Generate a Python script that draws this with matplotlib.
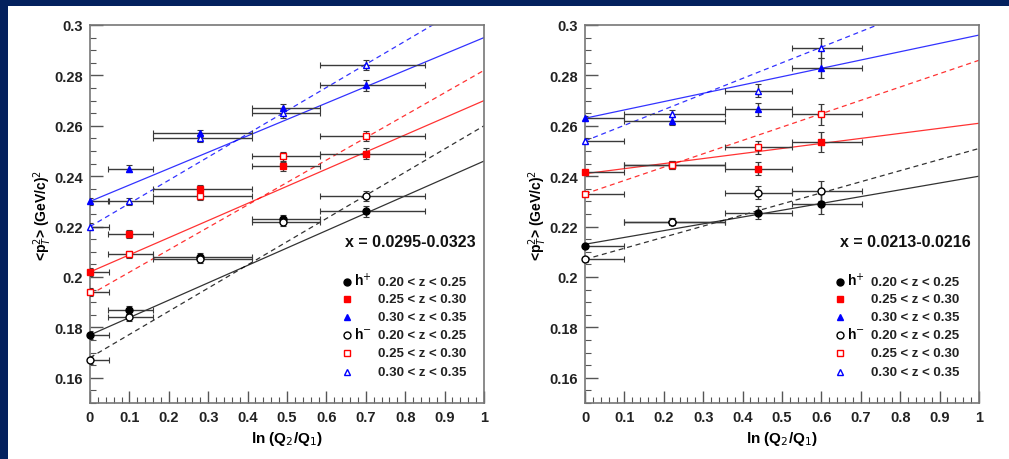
import matplotlib
matplotlib.use("Agg")
import matplotlib.pyplot as plt
from matplotlib.patches import Rectangle
from matplotlib.ticker import MultipleLocator, FormatStrFormatter

plt.rcParams['font.family'] = ['Liberation Sans', 'DejaVu Sans']

# ---- left panel: x = 0.0295-0.0323
left_x = [0.0, 0.10, 0.28, 0.49, 0.70]
left_xlo = [0.0, 0.045, 0.159, 0.411, 0.584]
left_xhi = [0.048, 0.159, 0.411, 0.584, 0.85]
left_hp_z1 = [0.177, 0.187, 0.208, 0.223, 0.226]
left_hp_z2 = [0.202, 0.217, 0.235, 0.244, 0.249]
left_hp_z3 = [0.230, 0.243, 0.257, 0.267, 0.276]
left_hm_z1 = [0.167, 0.184, 0.207, 0.222, 0.232]
left_hm_z2 = [0.194, 0.209, 0.232, 0.248, 0.256]
left_hm_z3 = [0.220, 0.230, 0.255, 0.265, 0.284]
left_yerr = [0.0015, 0.0015, 0.0015, 0.0018, 0.002]
# fit lines: value at x=0 and x=1
left_fit0 = [0.177, 0.202, 0.230, 0.168, 0.193, 0.220]
left_fit1 = [0.246, 0.270, 0.295, 0.260, 0.282, 0.312]

# ---- right panel: x = 0.0213-0.0216
right_x = [0.0, 0.22, 0.44, 0.60]
right_xlo = [0.0, 0.10, 0.355, 0.525]
right_xhi = [0.10, 0.355, 0.525, 0.702]
right_hp_z1 = [0.2125, 0.222, 0.2255, 0.229]
right_hp_z2 = [0.2415, 0.2445, 0.243, 0.2535]
right_hp_z3 = [0.263, 0.262, 0.2665, 0.283]
right_hm_z1 = [0.207, 0.222, 0.2335, 0.234]
right_hm_z2 = [0.233, 0.2445, 0.2515, 0.2645]
right_hm_z3 = [0.254, 0.2648, 0.274, 0.291]
right_yerr = [0.001, 0.0015, 0.0025, 0.004]
right_fit0 = [0.213, 0.241, 0.263, 0.207, 0.233, 0.254]
right_fit1 = [0.240, 0.261, 0.296, 0.251, 0.286, 0.316]

z_labels = ['0.20 < z < 0.25', '0.25 < z < 0.30', '0.30 < z < 0.35']
colors = ['black', 'red', 'blue']
markers = ['o', 's', '^']

fig = plt.figure(figsize=(10.09, 4.60), dpi=100, facecolor='#04215e')
fig.patches.append(Rectangle((8 / 1009, 0), 1, 453 / 460, transform=fig.transFigure,
                             facecolor='white', edgecolor='none', zorder=-10))


def panel(ax, xs, xlo, xhi, hp, hm, yerr, fit0, fit1, title, lx):
    xerr = [[x - a for x, a in zip(xs, xlo)], [b - x for x, b in zip(xs, xhi)]]
    for i in range(3):
        c = colors[i]
        ax.plot([0, 1], [fit0[i], fit1[i]], '-', color=c, lw=0.9, alpha=0.8, zorder=2)
        ax.plot([0, 1], [fit0[i + 3], fit1[i + 3]], '--', color=c, lw=0.9, alpha=0.8,
                dashes=(4, 3), zorder=2)
    for i in range(3):
        c = colors[i]
        for ys, filled in ((hp[i], True), (hm[i], False)):
            ax.errorbar(xs, ys, xerr=xerr, yerr=yerr, fmt='none', ecolor='#3a3a3a',
                        elinewidth=1.0, capsize=2, capthick=0.8, zorder=3)
            ax.plot(xs, ys, markers[i], color=c, ms=5 if i < 2 else 4.5,
                    mfc=c if filled else 'white', mec=c, mew=1.0, zorder=4,
                    clip_on=False)

    ax.set_xlim(0, 1)
    ax.set_ylim(0.15, 0.3)
    ax.xaxis.set_major_locator(MultipleLocator(0.1))
    ax.xaxis.set_minor_locator(MultipleLocator(0.02))
    ax.yaxis.set_major_locator(MultipleLocator(0.02))
    ax.yaxis.set_minor_locator(MultipleLocator(0.005))
    ax.xaxis.set_major_formatter(FormatStrFormatter('%g'))
    ax.yaxis.set_major_formatter(FormatStrFormatter('%g'))
    ax.tick_params(which='both', direction='in', color='#555555', top=False, right=False)
    ax.tick_params(which='major', length=9, width=1.0, labelsize=10.5, pad=5)
    ax.tick_params(which='minor', length=4, width=0.8)
    for t in ax.get_xticklabels() + ax.get_yticklabels():
        t.set_fontweight('bold')
        t.set_color('#222222')
    for s in ax.spines.values():
        s.set_color('#777777')
        s.set_linewidth(1.2)
    ax.set_xlabel(r'ln (Q$_2$/Q$_1$)', fontsize=11, fontweight='bold', labelpad=4)
    ax.set_ylabel(r'<p$_T^2$> (GeV/c)$^2$', fontsize=10, fontweight='bold', labelpad=0)

    ax.text(0.98, 0.426, title, transform=ax.transAxes, ha='right', va='center',
            fontsize=11.5, fontweight='bold', color='#111111')
    ys_leg = [0.320, 0.275, 0.228, 0.180, 0.132, 0.082]
    for k in range(6):
        i = k % 3
        c = colors[i]
        filled = k < 3
        ax.plot([lx], [ys_leg[k]], markers[i], transform=ax.transAxes, color=c,
                ms=5 if i < 2 else 4.5, mfc=c if filled else 'white', mec=c, mew=1.0,
                clip_on=False)
        ax.text(lx + 0.08, ys_leg[k], z_labels[i], transform=ax.transAxes,
                ha='left', va='center', fontsize=9.5, fontweight='bold', color='#222222')
    ax.text(lx + 0.018, ys_leg[0] + 0.005, r'h$^{+}$', transform=ax.transAxes,
            ha='left', va='center', fontsize=10, fontweight='bold')
    ax.text(lx + 0.018, ys_leg[3] + 0.005, r'h$^{-}$', transform=ax.transAxes,
            ha='left', va='center', fontsize=10, fontweight='bold')


ax1 = fig.add_axes([90 / 1009, 56 / 460, 394 / 1009, 378 / 460])
panel(ax1, left_x, left_xlo, left_xhi,
      [left_hp_z1, left_hp_z2, left_hp_z3], [left_hm_z1, left_hm_z2, left_hm_z3],
      left_yerr, left_fit0, left_fit1, 'x = 0.0295-0.0323', 0.652)

ax2 = fig.add_axes([585 / 1009, 56 / 460, 394 / 1009, 378 / 460])
panel(ax2, right_x, right_xlo, right_xhi,
      [right_hp_z1, right_hp_z2, right_hp_z3], [right_hm_z1, right_hm_z2, right_hm_z3],
      right_yerr, right_fit0, right_fit1, 'x = 0.0213-0.0216', 0.647)

fig.savefig('out.png', dpi=100, facecolor=fig.get_facecolor())
